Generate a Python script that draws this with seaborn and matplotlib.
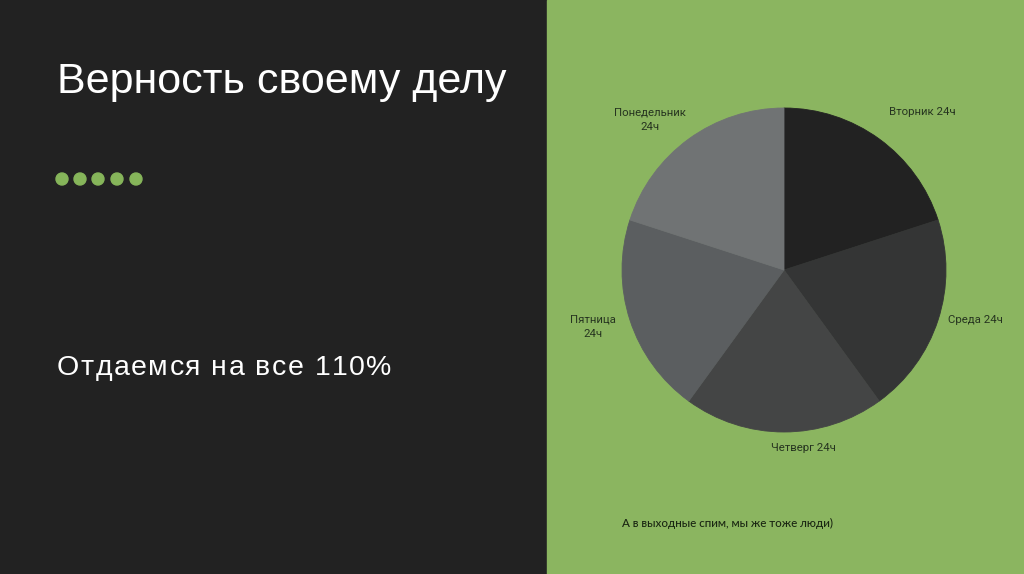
import matplotlib
matplotlib.use('Agg')
import matplotlib.pyplot as plt
import seaborn as sns
from matplotlib.patches import Rectangle, Circle

# slide data
days = ['Вторник', 'Среда', 'Четверг', 'Пятница', 'Понедельник']
hours = [24, 24, 24, 24, 24]
slice_colors = ['#222222', '#343535', '#444545', '#5b5e60', '#707374']
title = 'Верность своему делу'
subtitle = 'Отдаемся на все 110%'
footer = 'А в выходные спим, мы же тоже люди)'

# where the data labels sit (pie units, outside end like in the original)
label_pos = [(0.852, 0.975), (1.179, -0.309), (0.117, -1.099), (-1.179, -0.352), (-0.827, 0.926)]

sns.set_theme(style='white')
plt.rcParams['font.family'] = ['Liberation Sans', 'DejaVu Sans']

fig = plt.figure(figsize=(10.24, 5.74), dpi=100)
fig.patch.set_facecolor('#222222')

# green right panel
bg = fig.add_axes([0, 0, 1, 1])
bg.set_xlim(0, 1024)
bg.set_ylim(574, 0)
bg.axis('off')
bg.add_patch(Rectangle((547, 0), 477, 574, color='#8bb560', zorder=0))

# left side texts
bg.text(57, 82, title, color='white', fontsize=31, va='center', ha='left')
for x in [62, 80, 98, 117, 136]:
    bg.add_patch(Circle((x, 179), 6, color='#86b55a'))

# subtitle has wide letter spacing -> place chars one by one
renderer = fig.canvas.get_renderer()
def text_w(s, size):
    t = bg.text(0, 0, s, fontsize=size)
    w = t.get_window_extent(renderer).width
    t.remove()
    return w
sub_size = 20.5
base = text_w('||', sub_size)
x = 57
for ch in subtitle:
    bg.text(x, 368, ch, color='white', fontsize=sub_size, va='center', ha='left')
    x += text_w('|' + ch + '|', sub_size) - base + 1.5

bg.text(727, 523, footer, color='#1a2612', fontsize=8.4, va='center', ha='center',
        family=['Lato', 'DejaVu Sans'], fontweight='medium')

# pie
ax = fig.add_axes([581.5 / 1024, 101.5 / 574, 405 / 1024, 405 / 574])
labels = [f'{d} {h}ч' for d, h in zip(days, hours)]
labels[3] = f'{days[3]}\n{hours[3]}ч'
labels[4] = f'{days[4]}\n{hours[4]}ч'
wedges, texts = ax.pie(hours, labels=labels, colors=sns.color_palette(slice_colors),
                       startangle=90, counterclock=False,
                       textprops=dict(color='#263420', fontsize=8.2,
                                      family=['Roboto', 'DejaVu Sans'], linespacing=1.55))
for w in wedges:
    w.set_edgecolor(w.get_facecolor())
    w.set_linewidth(0.6)
for t, p in zip(texts, label_pos):
    t.set_position(p)
    t.set_ha('center')
    t.set_va('center')
    t.set_multialignment('center')
ax.set_xlim(-1.25, 1.25)
ax.set_ylim(-1.25, 1.25)
ax.set_aspect('equal')
ax.axis('off')

fig.savefig('out.png', dpi=100, facecolor=fig.get_facecolor())
